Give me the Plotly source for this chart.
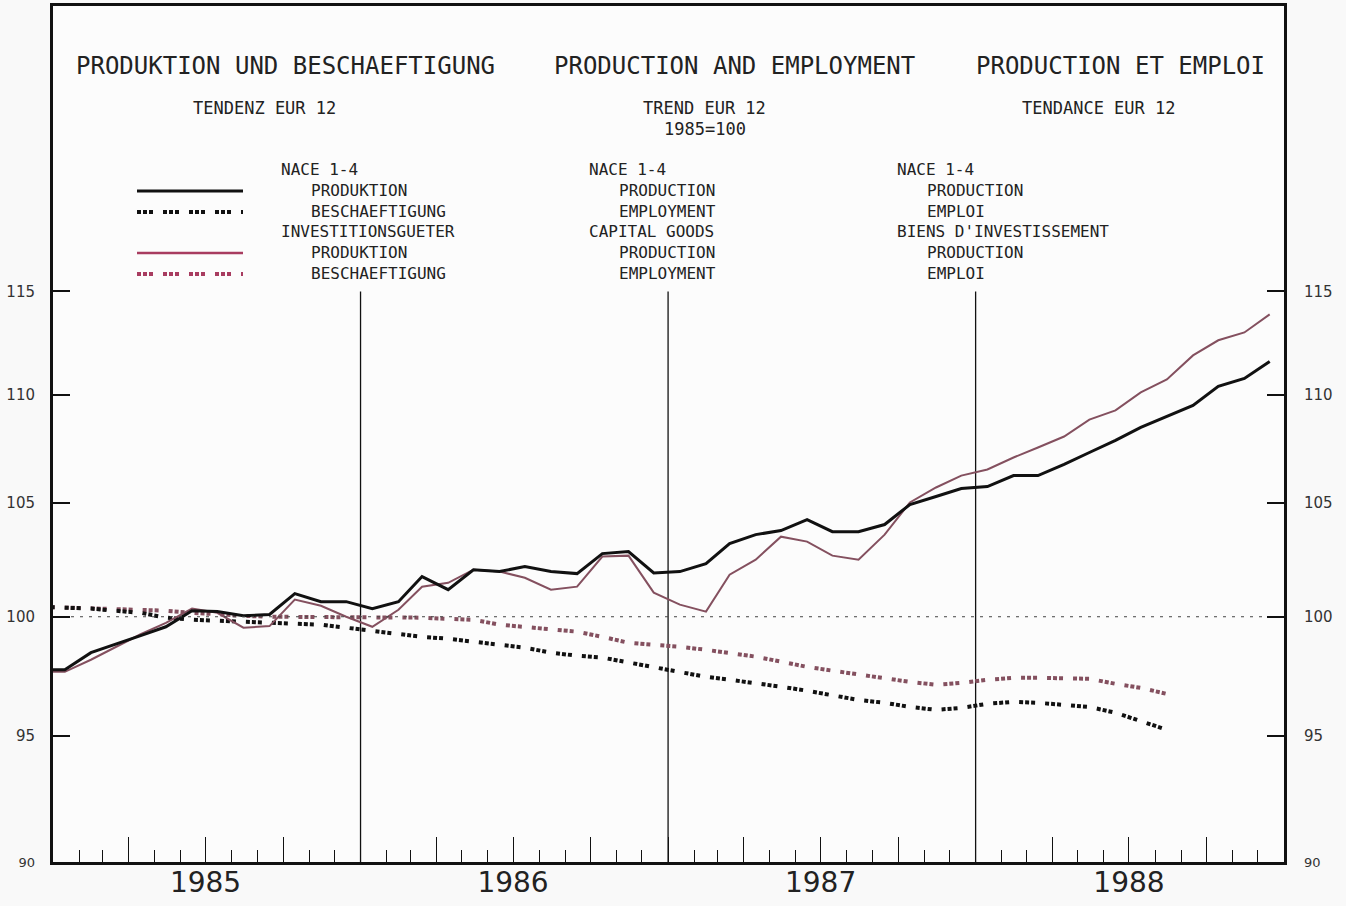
import pandas as pd
import plotly.graph_objects as go

# monthly trend values, Dec 1984 .. Dec 1988 (1985=100)
months = pd.date_range("1984-12-01", "1988-12-01", freq="MS") + pd.Timedelta(days=14)

nace_prod = [97.75,
             97.75, 98.47, 98.80, 99.19, 99.57, 100.26, 100.22, 100.04, 100.10, 101.00, 100.65, 100.65,
             100.35, 100.65, 101.74, 101.17, 102.04, 101.96, 102.18, 101.96, 101.87, 102.75, 102.84, 101.90,
             101.96, 102.31, 103.19, 103.59, 103.77, 104.26, 103.72, 103.72, 104.04, 104.94, 105.30, 105.66,
             105.75, 106.25, 106.25, 106.76, 107.31, 107.87, 108.47, 108.98, 109.50, 110.40, 110.78, 111.59]

cap_prod = [97.66,
            97.66, 98.17, 98.68, 99.25, 99.74, 100.35, 100.17, 99.53, 99.60, 100.74, 100.47, 100.00,
            99.57, 100.30, 101.30, 101.47, 102.04, 101.96, 101.69, 101.17, 101.30, 102.62, 102.66, 101.04,
            100.52, 100.22, 101.82, 102.48, 103.50, 103.28, 102.66, 102.48, 103.59, 105.03, 105.71, 106.25,
            106.53, 107.08, 107.54, 108.05, 108.84, 109.27, 110.12, 110.73, 111.88, 112.61, 112.99, 113.87]

# employment series stop in Aug 1988
nace_emp = [100.43,
            100.39, 100.35, 100.26, 100.17, 99.96, 99.87, 99.83, 99.78, 99.74, 99.70, 99.66, 99.53,
            99.40, 99.23, 99.14, 99.06, 98.93, 98.80, 98.68, 98.47, 98.34, 98.26, 98.05, 97.88,
            97.66, 97.45, 97.33, 97.20, 97.04, 96.87, 96.70, 96.49, 96.37, 96.20, 96.08, 96.16,
            96.33, 96.41, 96.37, 96.29, 96.20, 95.96, 95.63, 95.26]

cap_emp = [100.43,
           100.39, 100.35, 100.30, 100.26, 100.26, 100.17, 100.09, 100.04, 100.00, 100.00, 100.00, 100.00,
           99.96, 99.96, 99.96, 99.91, 99.87, 99.66, 99.57, 99.49, 99.36, 99.14, 98.89, 98.80,
           98.72, 98.59, 98.47, 98.30, 98.09, 97.87, 97.71, 97.54, 97.41, 97.24, 97.12, 97.20,
           97.33, 97.41, 97.41, 97.41, 97.37, 97.16, 96.99, 96.74]

y_ticks = [90, 95, 100, 105, 110, 115]
y_ticktext = ["<span style='font-size:13px'>90</span>", "95", "100", "105", "110", "115"]
years = ["1985", "1986", "1987", "1988"]

# quarterly ticks, year label sits on the July tick
q_ticks = pd.date_range("1985-01-01", "1989-01-01", freq="QS")
q_text = [str(d.year) if d.month == 7 else "" for d in q_ticks]

BLACK = "#111111"
CAP = "#84505f"
CAP_LEG = "#a83c60"
DOTS = "4px,2px,4px,2px,4px,10px"

fig = go.Figure()

# 1985=100 reference
fig.add_trace(go.Scatter(x=["1985-01-01", "1989-01-01"], y=[100, 100], mode="lines",
                         line=dict(color="#444444", width=1, dash="3px,6px"), yaxis="y2"))
# year separators
sep_x, sep_y = [], []
for yr in years[1:]:
    sep_x += [yr + "-01-01", yr + "-01-01", None]
    sep_y += [90, 115, None]
fig.add_trace(go.Scatter(x=sep_x, y=sep_y, mode="lines", line=dict(color=BLACK, width=1.3)))

fig.add_trace(go.Scatter(x=months[:len(cap_emp)], y=cap_emp, mode="lines",
                         line=dict(color=CAP, width=4, dash=DOTS)))
fig.add_trace(go.Scatter(x=months[:len(nace_emp)], y=nace_emp, mode="lines",
                         line=dict(color=BLACK, width=4, dash=DOTS)))
fig.add_trace(go.Scatter(x=months, y=cap_prod, mode="lines", line=dict(color=CAP, width=2)))
fig.add_trace(go.Scatter(x=months, y=nace_prod, mode="lines", line=dict(color=BLACK, width=3)))

# plot box in pixels: x 53..1284, y 6..862
def px(x):
    return (x - 53) / 1231.0

def py(y):
    return (862 - y) / 856.0

mono = "DejaVu Sans Mono"
ann = []

def txt(s, x, y, size, anchor="left"):
    ann.append(dict(text=s, x=px(x), y=py(y), xref="paper", yref="paper", showarrow=False,
                    xanchor=anchor, yanchor="middle", font=dict(family=mono, size=size, color="#222222")))

txt("PRODUKTION UND BESCHAEFTIGUNG", 74, 66, 24)
txt("PRODUCTION AND EMPLOYMENT", 552, 66, 24)
txt("PRODUCTION ET EMPLOI", 974, 66, 24)
txt("TENDENZ EUR 12", 264, 108, 17, "center")
txt("TREND EUR 12", 705, 108, 17, "center")
txt("1985=100", 705, 129, 17, "center")
txt("TENDANCE EUR 12", 1099, 108, 17, "center")

legend_cols = [
    ["NACE 1-4", "PRODUKTION", "BESCHAEFTIGUNG", "INVESTITIONSGUETER", "PRODUKTION", "BESCHAEFTIGUNG"],
    ["NACE 1-4", "PRODUCTION", "EMPLOYMENT", "CAPITAL GOODS", "PRODUCTION", "EMPLOYMENT"],
    ["NACE 1-4", "PRODUCTION", "EMPLOI", "BIENS D'INVESTISSEMENT", "PRODUCTION", "EMPLOI"],
]
rows_y = [170, 191, 211, 232, 252, 273]
col_x = [279, 587, 895]
for cx, col in zip(col_x, legend_cols):
    for i, (s, ry) in enumerate(zip(col, rows_y)):
        indent = 0 if i in (0, 3) else 30
        txt(s, cx + indent, ry, 16)

shapes = []
for ry, color, width, dash in [(191, BLACK, 3, "solid"), (212, BLACK, 4, DOTS),
                               (253, CAP_LEG, 2.5, "solid"), (274, CAP_LEG, 4, DOTS)]:
    shapes.append(dict(type="line", xref="paper", yref="paper", x0=px(137), x1=px(243),
                       y0=py(ry), y1=py(ry), line=dict(color=color, width=width, dash=dash)))

yrange = [1.954243, 2.113943]  # log10(90) .. log10(130)
yax = dict(type="log", range=yrange, tickvals=y_ticks, ticktext=y_ticktext, ticks="inside",
           ticklen=17, tickwidth=2, tickcolor=BLACK, showgrid=False, zeroline=False,
           showline=True, linewidth=3, linecolor=BLACK, automargin=False,
           tickfont=dict(family="DejaVu Sans", size=15, color="#333333"))

fig.update_layout(
    width=1346, height=906,
    margin=dict(l=53, r=62, t=6, b=44),
    paper_bgcolor="#f9f9f9", plot_bgcolor="#fcfcfc",
    showlegend=False,
    xaxis=dict(type="date", range=["1985-01-01", "1989-01-01"], tickvals=q_ticks, ticktext=q_text,
               ticks="inside", ticklen=25, tickwidth=1.3, tickcolor=BLACK, automargin=False,
               ticklabelstandoff=-7,
               minor=dict(dtick="M1", tick0="1985-01-01", ticks="inside", ticklen=12,
                          tickwidth=1.3, tickcolor=BLACK, showgrid=False),
               showgrid=False, zeroline=False, showline=True, linewidth=3, linecolor=BLACK, mirror=True,
               tickfont=dict(family="DejaVu Sans", size=28, color="#222222")),
    yaxis=dict(yax, side="left", ticklabelstandoff=12),
    yaxis2=dict(yax, side="right", overlaying="y", ticklabelstandoff=14),
    annotations=ann,
    shapes=shapes,
)

# page has a default body margin; drop it so the figure sits at 0,0
fig.write_html("out.html", config={"displayModeBar": False},
               post_script="document.body.style.margin='0';")
